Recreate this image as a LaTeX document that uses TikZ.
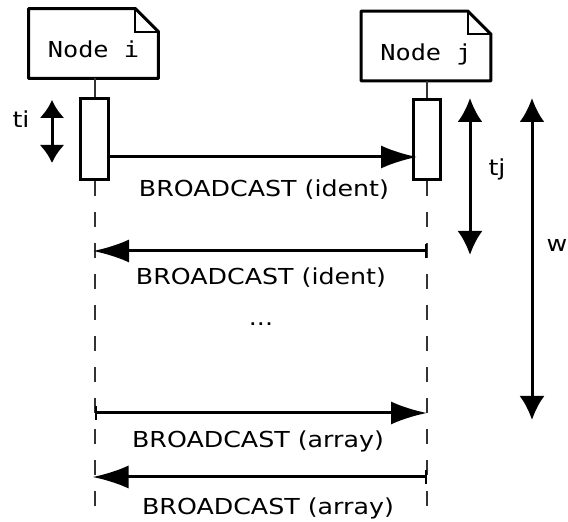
\documentclass[tikz,border=0pt]{standalone}
\usepackage{fontspec}
\setmainfont{DejaVu Sans}[FakeStretch=1.15]
\setmonofont{DejaVu Sans Mono}[FakeStretch=1.15]
\usetikzlibrary{arrows.meta}
\usetikzlibrary{calc}
\tikzset{>={Latex[length=18pt,width=11.5pt]}}
\tikzset{note/.style={minimum width=64.5pt, minimum height=34.5pt, inner sep=0pt,
    text height=14.5pt, text depth=0pt, font=\ttfamily\fontsize{11}{13}\selectfont}}
\tikzset{actbox/.style={draw, line width=1.5pt, fill=white, minimum width=14pt, inner sep=0pt}}
\tikzset{msg/.style={line width=1.5pt, ->}}
\tikzset{barmsg/.style={line width=1.5pt, {Bar[width=7pt,line width=1pt]}->}}
\tikzset{span/.style={line width=1.5pt, {Latex[length=12pt,width=12.5pt]}-{Latex[length=12pt,width=12.5pt]}}}
\tikzset{life/.style={line width=1pt, black!80}}
\tikzset{lbl/.style={anchor=base, inner sep=0pt, font=\fontsize{11}{13}\selectfont}}
\newcommand{\notebox}[1]{%
  \draw[line width=1.5pt, line join=round] (#1.south west) -- (#1.north west)
    -- ($(#1.north east)+(-23,0)$) -- ($(#1.north east)+(0,23)$) -- (#1.south east) -- cycle;
  \draw[line width=1pt] ($(#1.north east)+(-23,0)$) |- ($(#1.north east)+(0,23)$);}

\begin{document}
\begin{tikzpicture}[x=0.5pt, y=-0.5pt]
\useasboundingbox (0,0) rectangle (568,522);

% the two nodes
\node[note] (ni) at (93.5,43.5) {Node i};
\node[note] (nj) at (426,46) {Node j};
\notebox{ni}
\notebox{nj}

% life lines
\coordinate (ei) at (94.5,522);
\coordinate (ej) at (427,522);
\node[actbox, minimum height=40.5pt] (ai) at (94.5,139.5) {};
\node[actbox, minimum height=40pt, minimum width=13.5pt] (aj) at (427,140) {};
\draw[life] (ai.north |- ni.south) -- (ai.north);
\draw[life] (aj.north |- nj.south) -- (aj.north);
\draw[life, dash pattern=on 7.5pt off 8pt] (ai.south) -- (ei);
\draw[life, dash pattern=on 7.5pt off 8pt] (aj.south) -- (ej);
\node[actbox, minimum height=40.5pt] at (ai) {};
\node[actbox, minimum height=40pt, minimum width=13.5pt] at (aj) {};

% messages
\coordinate (m1) at (0,157);
\coordinate (m2) at (0,251);
\coordinate (m3) at (0,413);
\coordinate (m4) at (0,477);
\draw[msg] (ai.east |- m1) -- ([xshift=2.5pt]aj.west |- m1);
\draw[barmsg] (aj |- m2) -- ([xshift=-0.75pt]ai |- m2);
\draw[barmsg] (ai |- m3) -- (aj |- m3);
\draw[barmsg] (aj |- m4) -- ([xshift=-1pt]ai |- m4);

\node[lbl] (l1) at (264,197) {BROADCAST (ident)};
\node[lbl] (l2) at (261,285) {BROADCAST (ident)};
\node[lbl] (dots) at (261,326) {...};
\node[lbl] (l3) at (258,448) {BROADCAST (array)};
\node[lbl] (l4) at (268,515) {BROADCAST (array)};

% durations
\coordinate (ti1) at (52,100);
\coordinate (ti2) at (52,163);
\coordinate (tj1) at (470,98);
\coordinate (tj2) at (470,255);
\coordinate (w1) at (532,98);
\coordinate (w2) at (532,420);
\draw[line width=1.5pt, {Latex[length=9pt,width=12.5pt]}-{Latex[length=9pt,width=12.5pt]}] (ti1) -- (ti2);
\draw[span] (tj1) -- (tj2);
\draw[span] (w1) -- (w2);
\node[lbl] (ti) at (21,128) {ti};
\node[lbl] (tj) at (497,176) {tj};
\node[lbl] (w) at (557,252) {w};
\end{tikzpicture}
\end{document}
